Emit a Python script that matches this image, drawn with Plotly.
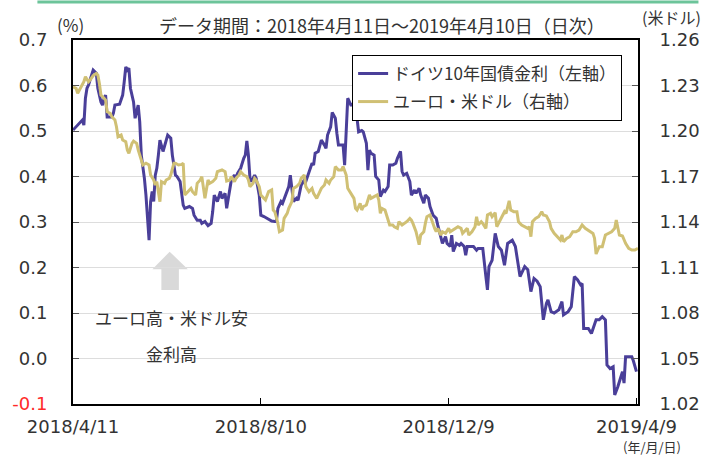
import plotly.graph_objects as go

# ---------------- data ----------------
bund_dates = [
    "2018-04-11", "2018-04-13", "2018-04-15", "2018-04-17", "2018-04-18", "2018-04-19", "2018-04-20", "2018-04-21", "2018-04-23", "2018-04-24",
    "2018-04-26", "2018-04-27", "2018-04-29", "2018-04-30", "2018-05-01", "2018-05-02", "2018-05-03", "2018-05-06", "2018-05-07", "2018-05-08",
    "2018-05-11", "2018-05-13", "2018-05-14", "2018-05-15", "2018-05-16", "2018-05-17", "2018-05-18", "2018-05-20", "2018-05-21", "2018-05-23",
    "2018-05-24", "2018-05-25", "2018-05-27", "2018-05-28", "2018-05-30", "2018-05-31", "2018-06-01", "2018-06-02", "2018-06-03", "2018-06-04",
    "2018-06-05", "2018-06-06", "2018-06-08", "2018-06-10", "2018-06-11", "2018-06-13", "2018-06-14", "2018-06-16", "2018-06-17", "2018-06-19",
    "2018-06-21", "2018-06-22", "2018-06-25", "2018-06-27", "2018-06-28", "2018-06-30", "2018-07-02", "2018-07-03", "2018-07-05", "2018-07-07",
    "2018-07-09", "2018-07-10", "2018-07-11", "2018-07-13", "2018-07-15", "2018-07-16", "2018-07-18", "2018-07-19", "2018-07-21", "2018-07-22",
    "2018-07-24", "2018-07-25", "2018-07-26", "2018-07-28", "2018-07-30", "2018-07-31", "2018-08-01", "2018-08-02", "2018-08-03", "2018-08-04",
    "2018-08-06", "2018-08-07", "2018-08-09", "2018-08-10", "2018-08-12", "2018-08-14", "2018-08-17", "2018-08-19", "2018-08-20", "2018-08-21",
    "2018-08-23", "2018-08-24", "2018-08-26", "2018-08-28", "2018-08-29", "2018-08-30", "2018-08-31", "2018-09-02", "2018-09-03", "2018-09-05",
    "2018-09-07", "2018-09-08", "2018-09-10", "2018-09-12", "2018-09-13", "2018-09-14", "2018-09-16", "2018-09-18", "2018-09-20", "2018-09-21",
    "2018-09-22", "2018-09-24", "2018-09-25", "2018-09-27", "2018-09-28", "2018-09-29", "2018-09-30", "2018-10-02", "2018-10-03", "2018-10-04",
    "2018-10-05", "2018-10-07", "2018-10-08", "2018-10-09", "2018-10-11", "2018-10-12", "2018-10-14", "2018-10-15", "2018-10-17", "2018-10-18",
    "2018-10-19", "2018-10-20", "2018-10-22", "2018-10-23", "2018-10-25", "2018-10-26", "2018-10-28", "2018-10-29", "2018-10-31", "2018-11-01",
    "2018-11-03", "2018-11-05", "2018-11-06", "2018-11-08", "2018-11-09", "2018-11-10", "2018-11-12", "2018-11-14", "2018-11-15", "2018-11-17",
    "2018-11-18", "2018-11-20", "2018-11-21", "2018-11-23", "2018-11-24", "2018-11-26", "2018-11-27", "2018-11-29", "2018-12-01", "2018-12-02",
    "2018-12-04", "2018-12-05", "2018-12-07", "2018-12-08", "2018-12-10", "2018-12-11", "2018-12-12", "2018-12-14", "2018-12-16", "2018-12-17",
    "2018-12-19", "2018-12-20", "2018-12-21", "2018-12-23", "2018-12-25", "2018-12-27", "2018-12-28", "2018-12-30", "2018-12-31", "2019-01-02",
    "2019-01-03", "2019-01-04", "2019-01-06", "2019-01-08", "2019-01-10", "2019-01-12", "2019-01-14", "2019-01-16", "2019-01-19", "2019-01-21",
    "2019-01-24", "2019-01-27", "2019-01-29", "2019-01-31", "2019-02-02", "2019-02-04", "2019-02-06", "2019-02-08", "2019-02-10", "2019-02-11",
    "2019-02-13", "2019-02-15", "2019-02-18", "2019-02-20", "2019-02-21", "2019-02-24", "2019-02-26", "2019-02-28", "2019-03-02", "2019-03-04",
    "2019-03-05", "2019-03-06", "2019-03-09", "2019-03-11", "2019-03-14", "2019-03-16", "2019-03-18", "2019-03-20", "2019-03-21", "2019-03-23",
    "2019-03-25", "2019-03-26", "2019-03-28", "2019-03-31", "2019-04-01", "2019-04-02", "2019-04-04", "2019-04-06", "2019-04-07", "2019-04-09",
]
bund_yield = [
    0.502, 0.509, 0.517, 0.524, 0.513, 0.572, 0.594, 0.601, 0.623, 0.634,
    0.627, 0.594, 0.564, 0.557, 0.572, 0.579, 0.531, 0.531, 0.539, 0.557,
    0.559, 0.579, 0.608, 0.641, 0.634, 0.638, 0.594, 0.564, 0.528, 0.557,
    0.520, 0.447, 0.396, 0.359, 0.260, 0.345, 0.367, 0.345, 0.403, 0.418,
    0.447, 0.480, 0.455, 0.476, 0.491, 0.484, 0.447, 0.403, 0.400, 0.389,
    0.337, 0.330, 0.334, 0.330, 0.315, 0.304, 0.304, 0.297, 0.301, 0.292,
    0.297, 0.323, 0.359, 0.345, 0.367, 0.352, 0.363, 0.330, 0.374, 0.392,
    0.403, 0.396, 0.407, 0.418, 0.440, 0.447, 0.478, 0.447, 0.396, 0.389,
    0.403, 0.396, 0.359, 0.315, 0.312, 0.308, 0.302, 0.301, 0.301, 0.330,
    0.345, 0.341, 0.359, 0.378, 0.403, 0.367, 0.345, 0.352, 0.348, 0.381,
    0.392, 0.389, 0.407, 0.429, 0.425, 0.451, 0.455, 0.480, 0.469, 0.462,
    0.491, 0.509, 0.541, 0.528, 0.495, 0.469, 0.469, 0.469, 0.425, 0.506,
    0.572, 0.557, 0.557, 0.564, 0.528, 0.498, 0.501, 0.498, 0.473, 0.414,
    0.458, 0.451, 0.447, 0.400, 0.392, 0.356, 0.370, 0.367, 0.378, 0.425,
    0.425, 0.429, 0.440, 0.455, 0.411, 0.403, 0.407, 0.389, 0.359, 0.370,
    0.363, 0.374, 0.359, 0.341, 0.359, 0.352, 0.334, 0.315, 0.308, 0.293,
    0.268, 0.253, 0.268, 0.253, 0.246, 0.271, 0.235, 0.253, 0.249, 0.253,
    0.246, 0.227, 0.246, 0.246, 0.246, 0.238, 0.242, 0.242, 0.242, 0.180,
    0.151, 0.202, 0.216, 0.275, 0.246, 0.238, 0.205, 0.253, 0.260, 0.246,
    0.180, 0.202, 0.195, 0.147, 0.176, 0.170, 0.158, 0.085, 0.121, 0.129,
    0.103, 0.100, 0.107, 0.125, 0.096, 0.103, 0.114, 0.180, 0.173, 0.162,
    0.165, 0.066, 0.066, 0.055, 0.085, 0.085, 0.092, 0.085, -0.014, -0.022,
    -0.018, -0.080, -0.062, -0.029, -0.054, 0.004, 0.004, 0.004, -0.005, -0.029,
]

eur_dates = [
    "2018-04-11", "2018-04-13", "2018-04-14", "2018-04-16", "2018-04-18", "2018-04-19", "2018-04-21", "2018-04-22", "2018-04-24", "2018-04-26",
    "2018-04-27", "2018-04-28", "2018-04-29", "2018-05-01", "2018-05-02", "2018-05-03", "2018-05-05", "2018-05-06", "2018-05-08", "2018-05-09",
    "2018-05-10", "2018-05-12", "2018-05-13", "2018-05-15", "2018-05-16", "2018-05-17", "2018-05-19", "2018-05-20", "2018-05-22", "2018-05-23",
    "2018-05-25", "2018-05-26", "2018-05-28", "2018-05-30", "2018-05-31", "2018-06-02", "2018-06-03", "2018-06-04", "2018-06-06", "2018-06-07",
    "2018-06-09", "2018-06-10", "2018-06-12", "2018-06-13", "2018-06-15", "2018-06-16", "2018-06-18", "2018-06-20", "2018-06-21", "2018-06-22",
    "2018-06-24", "2018-06-26", "2018-06-27", "2018-06-29", "2018-06-30", "2018-07-02", "2018-07-03", "2018-07-05", "2018-07-07", "2018-07-08",
    "2018-07-10", "2018-07-12", "2018-07-13", "2018-07-15", "2018-07-16", "2018-07-18", "2018-07-19", "2018-07-21", "2018-07-22", "2018-07-24",
    "2018-07-25", "2018-07-27", "2018-07-28", "2018-07-30", "2018-08-01", "2018-08-02", "2018-08-03", "2018-08-05", "2018-08-06", "2018-08-07",
    "2018-08-09", "2018-08-10", "2018-08-12", "2018-08-13", "2018-08-15", "2018-08-17", "2018-08-18", "2018-08-19", "2018-08-21", "2018-08-22",
    "2018-08-24", "2018-08-25", "2018-08-27", "2018-08-28", "2018-08-30", "2018-08-31", "2018-09-02", "2018-09-04", "2018-09-05", "2018-09-07",
    "2018-09-08", "2018-09-10", "2018-09-12", "2018-09-13", "2018-09-15", "2018-09-16", "2018-09-18", "2018-09-20", "2018-09-21", "2018-09-23",
    "2018-09-24", "2018-09-26", "2018-09-27", "2018-09-29", "2018-10-01", "2018-10-02", "2018-10-04", "2018-10-05", "2018-10-07", "2018-10-08",
    "2018-10-09", "2018-10-10", "2018-10-11", "2018-10-13", "2018-10-14", "2018-10-15", "2018-10-17", "2018-10-19", "2018-10-20", "2018-10-22",
    "2018-10-24", "2018-10-25", "2018-10-26", "2018-10-27", "2018-10-29", "2018-10-30", "2018-11-01", "2018-11-03", "2018-11-04", "2018-11-06",
    "2018-11-07", "2018-11-09", "2018-11-11", "2018-11-12", "2018-11-14", "2018-11-15", "2018-11-16", "2018-11-18", "2018-11-19", "2018-11-20",
    "2018-11-21", "2018-11-23", "2018-11-24", "2018-11-25", "2018-11-27", "2018-11-28", "2018-11-30", "2018-12-01", "2018-12-02", "2018-12-04",
    "2018-12-05", "2018-12-07", "2018-12-09", "2018-12-10", "2018-12-12", "2018-12-13", "2018-12-15", "2018-12-17", "2018-12-18", "2018-12-19",
    "2018-12-21", "2018-12-22", "2018-12-24", "2018-12-26", "2018-12-27", "2018-12-28", "2018-12-30", "2018-12-31", "2019-01-02", "2019-01-03",
    "2019-01-05", "2019-01-06", "2019-01-08", "2019-01-09", "2019-01-10", "2019-01-12", "2019-01-14", "2019-01-15", "2019-01-17", "2019-01-18",
    "2019-01-20", "2019-01-22", "2019-01-23", "2019-01-25", "2019-01-27", "2019-01-29", "2019-01-30", "2019-01-31", "2019-02-01", "2019-02-03",
    "2019-02-05", "2019-02-07", "2019-02-08", "2019-02-10", "2019-02-12", "2019-02-13", "2019-02-15", "2019-02-17", "2019-02-19", "2019-02-20",
    "2019-02-21", "2019-02-23", "2019-02-25", "2019-02-27", "2019-03-01", "2019-03-03", "2019-03-05", "2019-03-07", "2019-03-09", "2019-03-12",
    "2019-03-13", "2019-03-14", "2019-03-16", "2019-03-18", "2019-03-20", "2019-03-22", "2019-03-24", "2019-03-26", "2019-03-27", "2019-03-29",
    "2019-03-31", "2019-04-02", "2019-04-04", "2019-04-06", "2019-04-08", "2019-04-10",
]
eur_usd = [
    1.2292, 1.2281, 1.2249, 1.2292, 1.2325, 1.2358, 1.2325, 1.2336, 1.2365, 1.2380,
    1.2369, 1.2314, 1.2237, 1.2216, 1.2204, 1.2127, 1.2117, 1.2094, 1.2073, 1.2028,
    1.1962, 1.1974, 1.1941, 1.1929, 1.1875, 1.1853, 1.1919, 1.1934, 1.1919, 1.1875,
    1.1798, 1.1776, 1.1787, 1.1776, 1.1710, 1.1677, 1.1644, 1.1666, 1.1534, 1.1666,
    1.1655, 1.1677, 1.1688, 1.1710, 1.1787, 1.1787, 1.1776, 1.1780, 1.1787, 1.1578,
    1.1600, 1.1622, 1.1600, 1.1578, 1.1655, 1.1677, 1.1699, 1.1556, 1.1677, 1.1655,
    1.1666, 1.1688, 1.1732, 1.1743, 1.1743, 1.1732, 1.1670, 1.1677, 1.1699, 1.1666,
    1.1688, 1.1710, 1.1732, 1.1710, 1.1699, 1.1677, 1.1633, 1.1655, 1.1688, 1.1677,
    1.1633, 1.1578, 1.1556, 1.1545, 1.1600, 1.1611, 1.1479, 1.1468, 1.1391, 1.1336,
    1.1347, 1.1424, 1.1457, 1.1490, 1.1534, 1.1622, 1.1633, 1.1655, 1.1688, 1.1710,
    1.1633, 1.1600, 1.1622, 1.1589, 1.1556, 1.1578, 1.1622, 1.1644, 1.1677, 1.1655,
    1.1677, 1.1699, 1.1765, 1.1743, 1.1743, 1.1765, 1.1710, 1.1622, 1.1589, 1.1578,
    1.1556, 1.1490, 1.1479, 1.1523, 1.1479, 1.1501, 1.1512, 1.1578, 1.1556, 1.1567,
    1.1578, 1.1545, 1.1457, 1.1490, 1.1479, 1.1446, 1.1380, 1.1380, 1.1369, 1.1358,
    1.1402, 1.1380, 1.1391, 1.1402, 1.1424, 1.1413, 1.1391, 1.1336, 1.1293, 1.1250,
    1.1314, 1.1336, 1.1391, 1.1435, 1.1446, 1.1413, 1.1358, 1.1336, 1.1358, 1.1314,
    1.1336, 1.1325, 1.1358, 1.1336, 1.1347, 1.1358, 1.1369, 1.1358, 1.1325, 1.1336,
    1.1358, 1.1314, 1.1336, 1.1369, 1.1435, 1.1380, 1.1402, 1.1391, 1.1358, 1.1446,
    1.1457, 1.1435, 1.1461, 1.1369, 1.1391, 1.1435, 1.1468, 1.1457, 1.1540, 1.1479,
    1.1468, 1.1468, 1.1402, 1.1380, 1.1369, 1.1358, 1.1369, 1.1303, 1.1402, 1.1424,
    1.1435, 1.1468, 1.1446, 1.1440, 1.1402, 1.1358, 1.1325, 1.1303, 1.1281, 1.1314,
    1.1270, 1.1292, 1.1303, 1.1336, 1.1336, 1.1347, 1.1380, 1.1358, 1.1347, 1.1325,
    1.1292, 1.1189, 1.1237, 1.1237, 1.1314, 1.1325, 1.1336, 1.1358, 1.1413, 1.1314,
    1.1308, 1.1260, 1.1226, 1.1215, 1.1215, 1.1226,
]

x_tick_dates = ["2018-04-11", "2018-08-10", "2018-12-09", "2019-04-09"]
x_tick_text = ["2018/4/11", "2018/8/10", "2018/12/9", "2019/4/9"]
left_ticks = [-0.1, 0.0, 0.1, 0.2, 0.3, 0.4, 0.5, 0.6, 0.7]
right_ticks = [1.02, 1.05, 1.08, 1.11, 1.14, 1.17, 1.20, 1.23, 1.26]

bund_name = "ドイツ10年国債金利（左軸）"
eur_name = "ユーロ・米ドル（右軸）"
title_text = "データ期間：2018年4月11日～2019年4月10日（日次）"

# ---------------- styling ----------------
FONT = "Noto Sans CJK JP"
TICKFONT = "DejaVu Sans, Noto Sans CJK JP"
TXT = "#333333"
PURPLE = "#4A3F99"
GOLD = "#D0C074"

left_text = []
for v in left_ticks:
    s = f"{v:.1f}"
    if v < 0:
        s = f'<span style="color:#FF2A2A">{s}</span>'
    left_text.append(s)
right_text = [f"{v:.2f}" for v in right_ticks]

fig = go.Figure()
fig.add_trace(go.Scatter(
    x=eur_dates, y=eur_usd, yaxis="y2", name=eur_name, mode="lines",
    line=dict(color=GOLD, width=3), legendrank=2, legendgroup="g2"))
fig.add_trace(go.Scatter(
    x=bund_dates, y=bund_yield, name=bund_name, mode="lines",
    line=dict(color=PURPLE, width=3), legendrank=1, legendgroup="g1"))

fig.update_layout(
    width=712, height=457,
    margin=dict(l=68, r=73, t=40, b=53),
    paper_bgcolor="white", plot_bgcolor="white",
    font=dict(family=FONT, size=17, color=TXT),
    showlegend=True,
    legend=dict(
        x=0.494, y=0.959, xanchor="left", yanchor="top",
        bordercolor="#000000", borderwidth=1, bgcolor="white",
        font=dict(family=FONT, size=17, color=TXT),
        tracegroupgap=3, traceorder="grouped",
    ),
    xaxis=dict(
        type="date", range=["2018-04-11", "2019-04-10"],
        tickvals=x_tick_dates, ticktext=x_tick_text,
        ticks="inside", ticklen=6, tickcolor="#000000", tickwidth=1,
        showline=True, linecolor="#000000", linewidth=2, mirror=True,
        showgrid=False, zeroline=False,
        tickfont=dict(family=TICKFONT, size=18, color=TXT),
        ticklabelstandoff=5,
    ),
    yaxis=dict(
        range=[-0.1, 0.7], tickvals=left_ticks, ticktext=left_text,
        ticks="inside", ticklen=6, tickcolor="#555555", tickwidth=1,
        showline=True, linecolor="#000000", linewidth=2,
        showgrid=True, gridcolor="#DDDDDD", gridwidth=1, zeroline=False,
        tickfont=dict(family=TICKFONT, size=18, color=TXT),
        ticklabelstandoff=20,
    ),
    yaxis2=dict(
        range=[1.02, 1.26], tickvals=right_ticks, ticktext=right_text,
        overlaying="y", side="right",
        ticks="inside", ticklen=6, tickcolor="#555555", tickwidth=1,
        showline=True, linecolor="#000000", linewidth=2,
        showgrid=False, zeroline=False,
        tickfont=dict(family=TICKFONT, size=18, color=TXT),
        ticklabelstandoff=16,
    ),
)

annos = [
    dict(text=title_text, x=0.5464, y=1.041, size=18, yanchor="middle"),
    dict(text="(%)", x=-0.005, y=1.043, size=17, yanchor="middle"),
    dict(text="(米ドル)", x=1.0595, y=1.064, size=16, yanchor="middle"),
    dict(text="(年/月/日)", x=1.024, y=-0.1456, size=13, yanchor="bottom"),
    dict(text="ユーロ高・米ドル安", x=0.1743, y=0.2363, size=17, yanchor="middle"),
    dict(text="金利高", x=0.1746, y=0.1401, size=17, yanchor="middle"),
]
for a in annos:
    fig.add_annotation(
        text=a["text"], x=a["x"], y=a["y"], xref="paper", yref="paper",
        xanchor="center", yanchor=a["yanchor"], showarrow=False, borderpad=0,
        font=dict(family=FONT, size=a["size"], color=TXT))

# decorative block arrow (upward) and green rule at the top
fig.add_shape(
    type="path", xref="paper", yref="paper",
    path="M 0.1564,0.3132 L 0.1564,0.3701 L 0.1406,0.3701 L 0.1711,0.4184 "
         "L 0.2032,0.3701 L 0.1874,0.3701 L 0.1874,0.3132 Z",
    fillcolor="#D9D9D9", line=dict(width=0), layer="below")
fig.add_shape(
    type="line", xref="paper", yref="paper",
    x0=-0.063, x1=1.107, y0=1.1044, y1=1.1044,
    line=dict(color="#6CC49A", width=3))

fig.write_html("out.html", config={"displayModeBar": False},
               post_script="document.body.style.margin='0';")
